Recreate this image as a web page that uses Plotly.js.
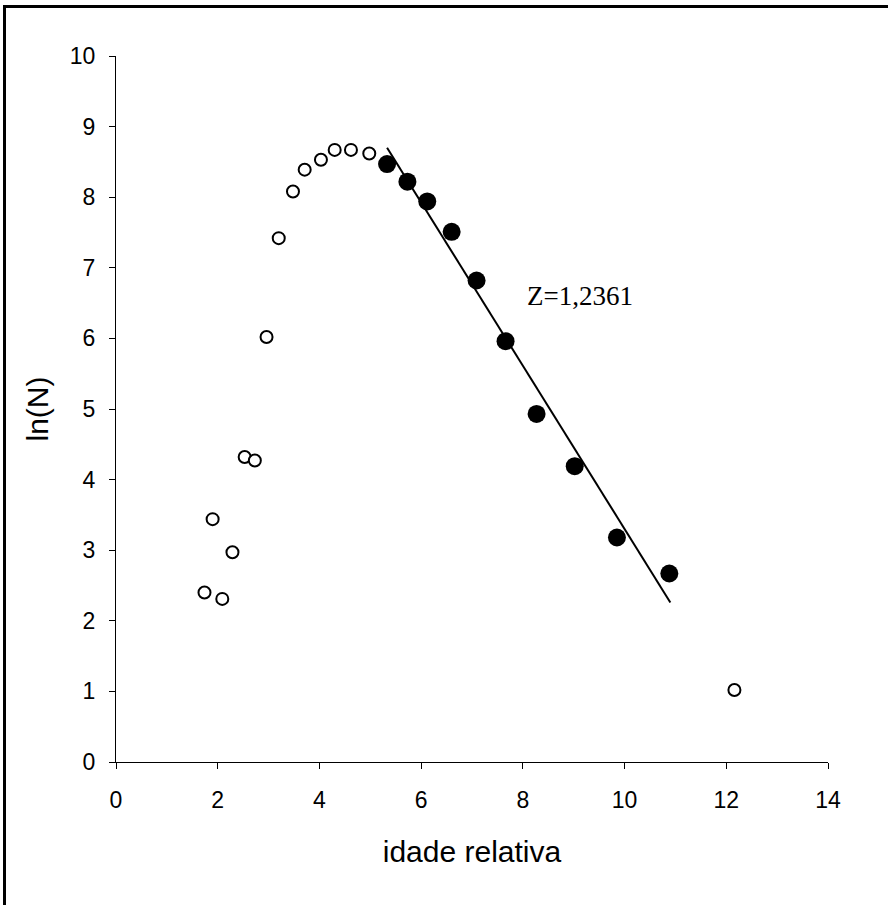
<!DOCTYPE html>
<html>
<head>
<meta charset="utf-8">
<script src="https://cdn.plot.ly/plotly-3.0.1.min.js"></script>
<style>
  html, body { margin: 0; padding: 0; background: #fff; }
  body { width: 888px; height: 905px; overflow: hidden; position: relative; }
  #frame { position: absolute; left: 3px; top: 5px; width: 950px; height: 950px; border: 3px solid #000; }
  #chart { position: absolute; left: 0; top: 0; width: 888px; height: 905px; }
</style>
</head>
<body>
<div id="frame"></div>
<div id="chart"></div>
<script>
// Open circles (excluded from the fit)
const openX = [1.74, 2.09, 1.90, 2.29, 2.53, 2.73, 2.96, 3.20, 3.48, 3.71, 4.03, 4.30, 4.62, 4.98, 12.16];
const openY = [2.40, 2.31, 3.44, 2.97, 4.32, 4.27, 6.02, 7.42, 8.08, 8.39, 8.53, 8.67, 8.67, 8.62, 1.02];
// Filled circles (used in the catch-curve fit)
const fillX = [5.33, 5.73, 6.12, 6.60, 7.09, 7.66, 8.27, 9.02, 9.85, 10.88];
const fillY = [8.47, 8.22, 7.94, 7.51, 6.82, 5.96, 4.93, 4.19, 3.18, 2.67];
// Fitted line endpoints
const lineX = [5.33, 10.90];
const lineY = [8.70, 2.26];
const xTicks = [0, 2, 4, 6, 8, 10, 12, 14];
const yTicks = [0, 1, 2, 3, 4, 5, 6, 7, 8, 9, 10];
const annText = "Z=1,2361";

const traces = [
  { x: lineX, y: lineY, type: 'scatter', mode: 'lines', line: { color: '#000', width: 2 }, hoverinfo: 'skip' },
  { x: openX, y: openY, type: 'scatter', mode: 'markers',
    marker: { symbol: 'circle', size: 12, color: '#fff', line: { color: '#000', width: 2 } } },
  { x: fillX, y: fillY, type: 'scatter', mode: 'markers',
    marker: { symbol: 'circle', size: 18, color: '#000', line: { color: '#000', width: 0 } } }
];

const sans = 'Liberation Sans, Arial, sans-serif';
const tickFont = { family: sans, size: 23, color: '#000' };
const layout = {
  width: 888, height: 905,
  margin: { l: 116, r: 60, t: 56, b: 143 },
  paper_bgcolor: 'rgba(0,0,0,0)', plot_bgcolor: 'rgba(0,0,0,0)',
  showlegend: false,
  xaxis: {
    range: [0, 14], tickvals: xTicks, ticktext: xTicks.map(String),
    showgrid: false, zeroline: false, showline: true, linecolor: '#000', linewidth: 1,
    ticks: 'outside', ticklen: 6, tickcolor: '#000', tickwidth: 1,
    tickfont: tickFont, ticklabelstandoff: 11,
    title: { text: 'idade relativa', font: { family: sans, size: 30, color: '#000' }, standoff: 29 },
    fixedrange: true
  },
  yaxis: {
    range: [0, 10], tickvals: yTicks, ticktext: yTicks.map(String),
    showgrid: false, zeroline: false, showline: true, linecolor: '#000', linewidth: 1,
    ticks: 'outside', ticklen: 6, tickcolor: '#000', tickwidth: 1,
    tickfont: tickFont, ticklabelstandoff: 9,
    title: { text: 'ln(N)', font: { family: sans, size: 30, color: '#000' }, standoff: 12 },
    fixedrange: true
  },
  annotations: [
    { x: 8.04, y: 6.60, xref: 'x', yref: 'y', text: annText, showarrow: false, xanchor: 'left', yanchor: 'middle',
      font: { family: 'Liberation Serif, Times New Roman, serif', size: 27, color: '#000' } }
  ]
};

Plotly.newPlot('chart', traces, layout, { displayModeBar: false, staticPlot: true });
</script>
</body>
</html>
